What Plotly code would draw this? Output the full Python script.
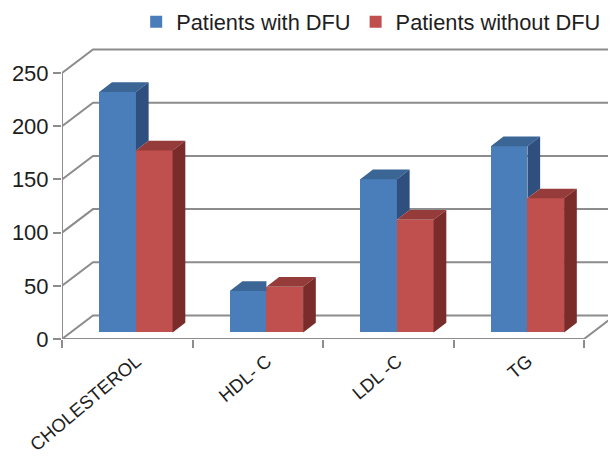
import plotly.graph_objects as go

# ---------------- data ----------------
categories = ["CHOLESTEROL", "HDL- C", "LDL -C", "TG"]
with_dfu = [226, 39, 144, 175]
without_dfu = [171, 43, 106, 126]
y_ticks = [0, 50, 100, 150, 200, 250]
series_names = ["Patients with DFU", "Patients without DFU"]

# ---------------- style ----------------
BLUE = dict(front="#4A7EBB", top="#3B6595", side="#2F507E")
RED = dict(front="#C0504D", top="#953B39", side="#7A2C2B")
GRID = "#8C8C8C"
TXT = "#1E1E1E"
FONT = "Liberation Sans, Arial, sans-serif"

# 3D projection parameters (in data units)
DX, DY = 0.2375, 22.1      # full depth of the chart box
F0, FD = 0.28, 0.41        # bar front depth fraction, bar depth fraction
W = 0.281                  # bar width (category units)
XL, XR = -0.5, len(categories) - 0.5
YMAX = y_ticks[-1]

xs, base = F0 * DX, F0 * DY
bdx, bdy = FD * DX, FD * DY

fig = go.Figure()

# front faces as bars
for name, vals, col, off in [(series_names[0], with_dfu, BLUE, -W),
                             (series_names[1], without_dfu, RED, 0.0)]:
    fig.add_trace(go.Bar(
        name=name, x=[i + xs for i in range(len(categories))], y=vals,
        base=[base] * len(vals), width=W, offset=off,
        marker=dict(color=col["front"], line=dict(width=0)),
        hoverinfo="name+text", text=[str(v) for v in vals], textposition="none",
    ))

# top & side faces
def poly(pts):
    xx = [p[0] for p in pts] + [pts[0][0], None]
    yy = [p[1] for p in pts] + [pts[0][1], None]
    return xx, yy

bt_x, bt_y, bs_x, bs_y, rt_x, rt_y, rs_x, rs_y = ([] for _ in range(8))
for i, (vb, vr) in enumerate(zip(with_dfu, without_dfu)):
    cx = i + xs
    bx0, bx1 = cx - W, cx
    rx0, rx1 = cx, cx + W
    hb, hr = base + vb, base + vr
    if vr >= vb:
        pts = [(bx0, hb), (bx1, hb), (bx1, hb + bdy), (bx0 + bdx, hb + bdy)]
    else:
        pts = [(bx0, hb), (bx1, hb), (bx1 + bdx, hb + bdy), (bx0 + bdx, hb + bdy)]
    a, b = poly(pts); bt_x += a; bt_y += b
    if vb > vr:
        a, b = poly([(bx1, hr), (bx1, hb), (bx1 + bdx, hb + bdy), (bx1 + bdx, hr + bdy)])
        bs_x += a; bs_y += b
    a, b = poly([(rx0, hr), (rx1, hr), (rx1 + bdx, hr + bdy), (rx0 + bdx, hr + bdy)])
    rt_x += a; rt_y += b
    a, b = poly([(rx1, base), (rx1, hr), (rx1 + bdx, hr + bdy), (rx1 + bdx, base + bdy)])
    rs_x += a; rs_y += b

for xx, yy, c in [(bt_x, bt_y, BLUE["top"]), (bs_x, bs_y, BLUE["side"]),
                  (rt_x, rt_y, RED["top"]), (rs_x, rs_y, RED["side"])]:
    if xx:
        fig.add_trace(go.Scatter(x=xx, y=yy, mode="lines", fill="toself",
                                 fillcolor=c, line=dict(width=0, color=c),
                                 showlegend=False, hoverinfo="skip"))

# walls / gridlines as shapes beneath the bars
shapes = []
line = dict(color=GRID, width=2)
for v in y_ticks:
    shapes.append(dict(type="path", xref="x", yref="y", layer="below", line=line,
                       path=f"M{XL},{v} L{XL + DX},{v + DY} L{XR + DX},{v + DY}"))
shapes.append(dict(type="path", xref="x", yref="y", layer="below", line=line,
                   path=f"M{XL},0 L{XR},0 L{XR + DX},{DY}"))
shapes.append(dict(type="path", xref="x", yref="y", layer="below", line=line,
                   path=f"M{XL},0 L{XL},{YMAX}"))

# the page body adds an 8px offset; margins compensate for it
PX_PER_CAT = 130.5
L, R, T, B = 54, 0, 32, 126
plot_w = 616 - L - R
plot_h = 457 - T - B
xr = [XL, XL + plot_w / PX_PER_CAT]
yr = [0, plot_h / 1.064]

fig.update_layout(
    width=616, height=457,
    margin=dict(l=L, r=R, t=T, b=B, pad=0, autoexpand=False),
    paper_bgcolor="white", plot_bgcolor="white",
    barmode="overlay", bargap=0,
    shapes=shapes,
    font=dict(family=FONT, color=TXT),
    showlegend=True,
    legend=dict(orientation="h", x=0.132, xanchor="left", y=1.06, yanchor="middle",
                font=dict(size=21.8, family=FONT, color=TXT), itemwidth=30,
                tracegroupgap=0, bgcolor="rgba(0,0,0,0)"),
    xaxis=dict(range=xr, showgrid=False, zeroline=False, showline=False, automargin=False,
               tickvals=[i + 0.07 for i in range(len(categories))], ticktext=categories,
               tickangle=-40, ticks="", ticklabelstandoff=7,
               tickfont=dict(size=18.5, family=FONT, color=TXT)),
    xaxis2=dict(range=xr, overlaying="x", side="bottom", showgrid=False, zeroline=False,
                showline=False, showticklabels=False, ticks="outside", ticklen=8,
                tickwidth=2, tickcolor=GRID, automargin=False,
                tickvals=[XL + k for k in range(len(categories) + 1)]),
    yaxis=dict(range=yr, showgrid=False, zeroline=False, showline=False, automargin=False,
               tickvals=y_ticks, ticks="outside", ticklen=8, tickwidth=2, tickcolor=GRID,
               tickfont=dict(size=22, family=FONT, color=TXT)),
)
# invisible point so that the overlaid tick-mark axis is drawn
fig.add_trace(go.Scatter(x=[XL], y=[0], xaxis="x2", mode="markers",
                         marker=dict(opacity=0), showlegend=False, hoverinfo="skip"))

fig.write_html("out.html")
